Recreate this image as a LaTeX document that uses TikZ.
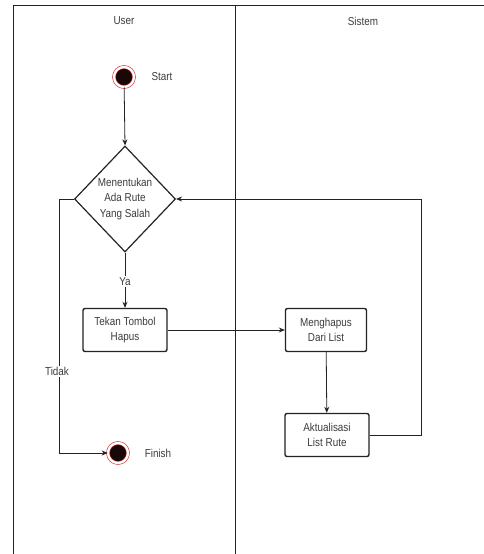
\documentclass[tikz,border=0pt]{standalone}
\usepackage{fontspec}
\setmainfont{Liberation Sans}[FakeStretch=0.86]
\usepackage{tikz}
\usetikzlibrary{arrows.meta,shapes.geometric}
\definecolor{ink}{RGB}{35,35,35}
\definecolor{txt}{RGB}{60,60,60}
\definecolor{ring}{RGB}{205,45,45}
\definecolor{dot}{RGB}{25,8,8}
\tikzset{
  every picture/.style={color=ink, line width=0.6pt},
  lane/.style={draw=ink, line width=0.9pt},
  head/.style={font=\fontsize{11.5}{13}\selectfont, text=txt},
  act/.style={draw=ink, rounded corners=2pt, line width=1.4pt, fill=white, align=center,
    minimum width=84pt, minimum height=43pt, inner sep=2pt, text=txt,
    font=\fontsize{11.5}{15}\selectfont},
  decide/.style={diamond, draw=ink, line width=1.2pt, fill=white, align=center, aspect=1,
    minimum width=101pt, minimum height=106pt, inner sep=0pt, text=txt,
    font=\fontsize{11.5}{15.5}\selectfont},
  terminal/.style={circle, fill=dot, draw=ring, line width=0.6pt, double=white,
    double distance=2.4pt, minimum size=20pt, inner sep=0pt},
  flow/.style={-{Stealth[length=6pt,width=5pt]}, line width=0.8pt},
  lbl/.style={font=\fontsize{11.5}{13}\selectfont, text=txt, fill=white, inner sep=1.5pt},
  side/.style={font=\fontsize{11.5}{13}\selectfont, text=txt, anchor=center},
}
\begin{document}
\begin{tikzpicture}[x=1pt, y=-1pt]
  \useasboundingbox (0,0) rectangle (484,554);
  % swimlanes
  \draw[lane] (13,554) -- (13,5) -- (484,5);
  \draw[lane] (235,5) -- (235,554);
  \node[head] (user) at (124,21) {User};
  \node[head] (sistem) at (363,21) {Sistem};

  \node[terminal] (start) at (124,77) {};
  \node[side] (starttxt) at (162,77) {Start};
  \node[decide] (cek) at (125,199) {Menentukan\\Ada Rute\\Yang Salah};
  \node[act] (tekan) at (125,330) {Tekan Tombol\\Hapus};
  \node[act, minimum width=81pt] (hapus) at (326,330) {Menghapus\\Dari List};
  \node[act] (aktual) at (327,435) {Aktualisasi\\List Rute};
  \node[terminal] (finish) at (118,453) {};
  \node[side] (finishtxt) at (158,453) {Finish};

  \coordinate (balik) at (421,199);
  \coordinate (tidakc) at (59,453);

  \draw[flow] (start) -- (cek.north);
  \draw[flow] (cek.south) -- node[lbl, pos=0.52] {Ya} (tekan.north);
  \draw[flow] (tekan) -- (hapus);
  \draw[flow] (hapus) -- (aktual);
  \draw[flow] (aktual.east) -| (balik) -- (cek.east);
  \draw[flow] (cek.west) -| node[lbl, pos=0.84, xshift=-2pt] {Tidak} (tidakc) -- (finish.west);
\end{tikzpicture}
\end{document}
